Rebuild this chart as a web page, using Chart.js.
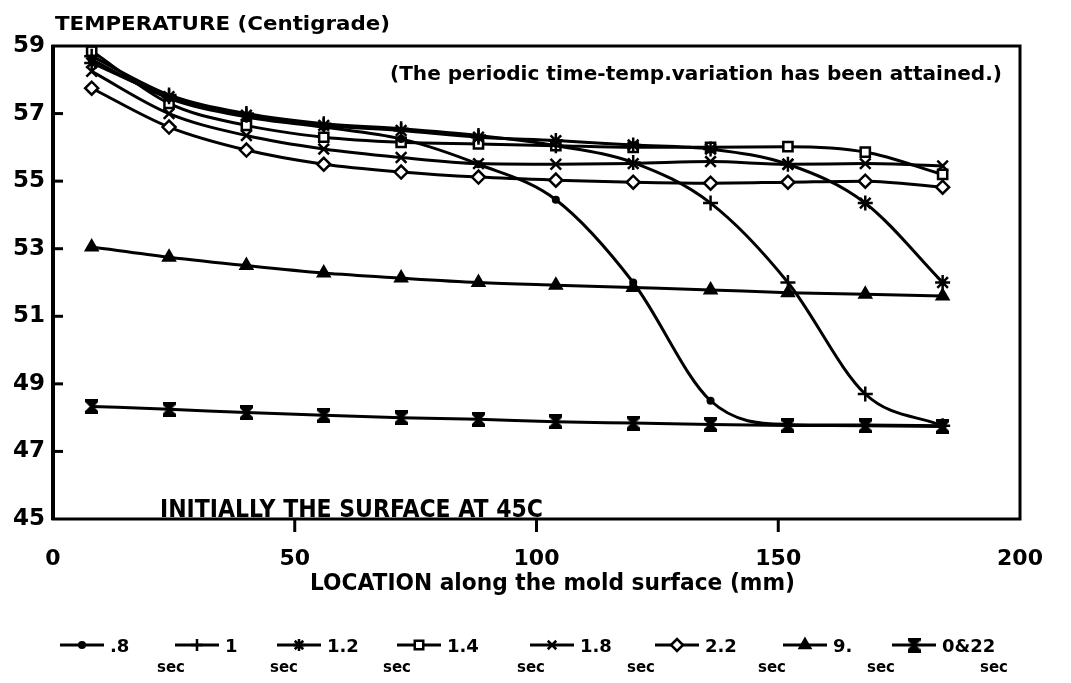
<!DOCTYPE html>
<html lang="en-US">
<head>
<meta charset="utf-8">
<title>Mold surface temperature</title>
<script src="https://cdn.jsdelivr.net/npm/chart.js"></script>
<style>
  body { margin: 0; background: #fff; }
  canvas { display: block; }
</style>
</head>
<body>
<canvas id="chart" width="1071" height="683"></canvas>
<script>
// location along the mold surface (mm)
const locations = [8, 24, 40, 56, 72, 88, 104, 120, 136, 152, 168, 184];

// temperature (C) at each location, one array per time
const t08 = [58.6, 57.45, 56.9, 56.6, 56.25, 55.5, 54.45, 52.0, 48.5, 47.8, 47.78, 47.76];
const t1 = [58.7, 57.55, 57.0, 56.7, 56.55, 56.35, 56.05, 55.55, 54.35, 52.0, 48.7, 47.76];
const t12 = [58.5, 57.5, 56.95, 56.65, 56.5, 56.3, 56.2, 56.07, 55.95, 55.5, 54.35, 52.0];
const t14 = [58.85, 57.3, 56.65, 56.3, 56.15, 56.1, 56.05, 56.0, 56.0, 56.02, 55.86, 55.2];
const t18 = [58.25, 57.0, 56.35, 55.95, 55.7, 55.52, 55.5, 55.52, 55.58, 55.5, 55.52, 55.45];
const t22 = [57.75, 56.6, 55.92, 55.5, 55.27, 55.12, 55.03, 54.97, 54.94, 54.97, 55.0, 54.82];
const t9 = [53.05, 52.75, 52.5, 52.28, 52.13, 52.0, 51.92, 51.85, 51.78, 51.7, 51.65, 51.6];
const t022 = [48.33, 48.25, 48.15, 48.07, 48.0, 47.95, 47.88, 47.84, 47.8, 47.77, 47.76, 47.74];

const seriesNames = ['.8', '1', '1.2', '1.4', '1.8', '2.2', '9.', '0&22'];
const seriesUnit = 'sec';

const FONT = '"DejaVu Sans", "Liberation Sans", sans-serif';

function hourglass() {
  const c = document.createElement('canvas');
  c.width = 13; c.height = 15;
  const g = c.getContext('2d');
  g.fillStyle = '#000';
  g.beginPath();
  g.moveTo(0, 0); g.lineTo(13, 0); g.lineTo(13, 3); g.lineTo(8.5, 7.5);
  g.lineTo(13, 12); g.lineTo(13, 15); g.lineTo(0, 15); g.lineTo(0, 12);
  g.lineTo(4.5, 7.5); g.lineTo(0, 3);
  g.closePath();
  g.fill();
  return c;
}

const markers = [
  { pointStyle: 'circle', radius: 2.8, fill: '#000' },
  { pointStyle: 'cross', radius: 7.5, fill: '#000' },
  { pointStyle: 'star', radius: 7.5, fill: '#000' },
  { pointStyle: 'rect', radius: 6.5, fill: '#fff' },
  { pointStyle: 'crossRot', radius: 7.5, fill: '#000' },
  { pointStyle: 'rectRot', radius: 6.5, fill: '#fff' },
  { pointStyle: 'triangle', radius: 6.5, fill: '#000' },
  { pointStyle: hourglass(), radius: 6, fill: '#000' }
];

const series = [t08, t1, t12, t14, t18, t22, t9, t022];

const datasets = series.map((vals, i) => ({
  label: seriesNames[i] + ' ' + seriesUnit,
  data: locations.map((x, j) => ({ x: x, y: vals[j] })),
  borderColor: '#000',
  borderWidth: 3,
  pointStyle: markers[i].pointStyle,
  pointRadius: markers[i].radius,
  pointBorderWidth: 2.5,
  pointBorderColor: '#000',
  pointBackgroundColor: markers[i].fill,
  cubicInterpolationMode: 'monotone',
  fill: false
}));

function fitText(ctx, text, x, y, width, size) {
  ctx.save();
  ctx.font = 'bold ' + size + 'px ' + FONT;
  ctx.textBaseline = 'alphabetic';
  ctx.textAlign = 'left';
  const w = ctx.measureText(text).width;
  ctx.translate(x, y);
  ctx.scale(width / w, 1);
  ctx.fillText(text, 0, 0);
  ctx.restore();
}

const decor = {
  id: 'decor',
  afterDraw(chart) {
    const ctx = chart.ctx;
    const a = chart.chartArea;
    const xs = chart.scales.x, ys = chart.scales.y;
    ctx.save();
    ctx.strokeStyle = '#000';
    ctx.fillStyle = '#000';

    // frame
    ctx.lineWidth = 3;
    ctx.strokeRect(a.left, a.top, a.right - a.left, a.bottom - a.top);
    ctx.lineWidth = 4;
    ctx.beginPath();
    ctx.moveTo(a.left, a.top - 1);
    ctx.lineTo(a.left, a.bottom + 1);
    ctx.stroke();

    // tick marks
    ctx.lineWidth = 3;
    ys.ticks.forEach(t => {
      if (t.value <= ys.min || t.value >= ys.max) return;
      const y = ys.getPixelForValue(t.value);
      ctx.beginPath();
      ctx.moveTo(a.left, y);
      ctx.lineTo(a.left + 10, y);
      ctx.stroke();
    });
    xs.ticks.forEach(t => {
      if (t.value <= xs.min || t.value >= xs.max) return;
      const x = xs.getPixelForValue(t.value);
      ctx.beginPath();
      ctx.moveTo(x, a.bottom);
      ctx.lineTo(x, a.bottom + 13);
      ctx.stroke();
    });

    // texts
    fitText(ctx, 'TEMPERATURE (Centigrade)', 55, 30, 335, 20);
    fitText(ctx, '(The periodic time-temp.variation has been attained.)', 390, 80, 612, 20);
    fitText(ctx, 'INITIALLY THE SURFACE AT 45C', 160, 517, 383, 24);
    fitText(ctx, 'LOCATION along the mold surface (mm)', 310, 590, 485, 23);

    // legend
    const legendX = [60, 175, 277, 397, 530, 655, 783, 892];
    const secX = [157, 270, 383, 517, 627, 758, 867, 980];
    const ly = 645;
    chart.data.datasets.forEach((ds, i) => {
      const x0 = legendX[i];
      ctx.lineWidth = 3;
      ctx.beginPath();
      ctx.moveTo(x0, ly);
      ctx.lineTo(x0 + 44, ly);
      ctx.stroke();
      ctx.lineWidth = 2.5;
      ctx.fillStyle = ds.pointBackgroundColor;
      Chart.helpers.drawPoint(ctx, {
        pointStyle: ds.pointStyle,
        radius: Math.min(ds.pointRadius, 6),
        rotation: 0,
        borderWidth: 2.5
      }, x0 + 22, ly);
      ctx.fillStyle = '#000';
      ctx.font = 'bold 18px ' + FONT;
      ctx.textBaseline = 'alphabetic';
      ctx.textAlign = 'left';
      ctx.fillText(seriesNames[i], x0 + 50, ly + 7);
      ctx.font = 'bold 15px ' + FONT;
      ctx.fillText(seriesUnit, secX[i], ly + 27);
    });
    ctx.restore();
  }
};

new Chart(document.getElementById('chart'), {
  type: 'line',
  data: { datasets: datasets },
  options: {
    responsive: false,
    animation: false,
    layout: { padding: { top: 46, right: 51, left: 0, bottom: 0 } },
    plugins: {
      legend: { display: false },
      tooltip: { enabled: false }
    },
    scales: {
      x: {
        type: 'linear',
        min: 0,
        max: 200,
        grid: { display: false, drawTicks: false },
        border: { display: false },
        ticks: {
          stepSize: 50,
          padding: 27,
          maxRotation: 0,
          color: '#000',
          font: { family: FONT, weight: 'bold', size: 22 }
        },
        afterFit(s) { s.height = 164; }
      },
      y: {
        min: 45,
        max: 59,
        grid: { display: false, drawTicks: false },
        border: { display: false },
        ticks: {
          stepSize: 2,
          padding: 8,
          color: '#000',
          font: { family: FONT, weight: 'bold', size: 23 }
        },
        afterFit(s) { s.width = 53; }
      }
    }
  },
  plugins: [decor]
});
</script>
</body>
</html>
